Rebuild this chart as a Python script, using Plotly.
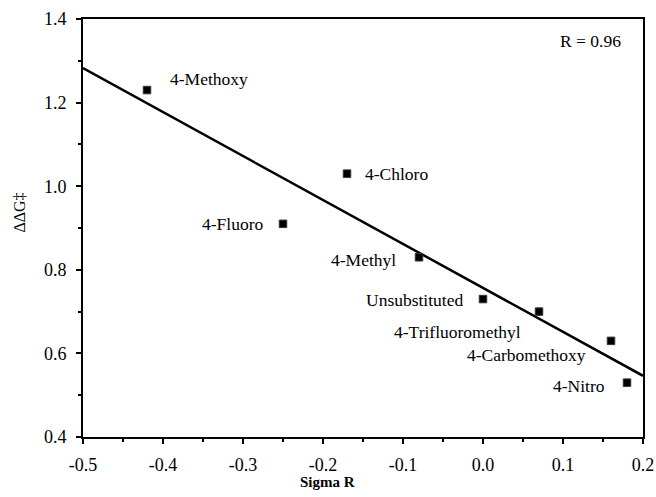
import numpy as np
import plotly.graph_objects as go

substituents = ["4-Methoxy", "4-Chloro", "4-Fluoro", "4-Methyl", "Unsubstituted",
                "4-Trifluoromethyl", "4-Carbomethoxy", "4-Nitro"]
sigma_r = [-0.42, -0.17, -0.25, -0.08, 0.00, 0.07, 0.16, 0.18]
ddg = [1.23, 1.03, 0.91, 0.83, 0.73, 0.70, 0.63, 0.53]
r_text = "R = 0.96"
x_ticks = [-0.5, -0.4, -0.3, -0.2, -0.1, 0.0, 0.1, 0.2]
x_ticktext = ["-0.5", "-0.4", "-0.3", "-0.2", "-0.1", "0.0", "0.1", "0.2"]
y_ticks = [0.4, 0.6, 0.8, 1.0, 1.2, 1.4]
y_ticktext = ["0.4", "0.6", "0.8", "1.0", "1.2", "1.4"]

# label placement: (anchor, xshift px, yshift px)
label_pos = {
    "4-Methoxy": ("left", 21, 11),
    "4-Chloro": ("left", 16, 0),
    "4-Fluoro": ("right", -17, 0),
    "4-Methyl": ("right", -21, -3),
    "Unsubstituted": ("right", -18, -1),
    "4-Trifluoromethyl": ("right", -16, -20),
    "4-Carbomethoxy": ("right", -23, -14),
    "4-Nitro": ("right", -20, -3),
}

slope, intercept = np.polyfit(sigma_r, ddg, 1)
xl = np.array([x_ticks[0], x_ticks[-1]])
yl = slope * xl + intercept

FONT = "Liberation Serif, Times New Roman, serif"
LBL = dict(family=FONT, size=17.5, color="black")

fig = go.Figure()
fig.add_trace(go.Scatter(x=xl, y=yl, mode="lines",
                         line=dict(color="black", width=2.5), showlegend=False))
fig.add_trace(go.Scatter(x=sigma_r, y=ddg, mode="markers",
                         marker=dict(symbol="square", size=7.5, color="black",
                                     line=dict(color="#333", width=1)),
                         showlegend=False))

annotations = []
for name, x, y in zip(substituents, sigma_r, ddg):
    anchor, xs, ys = label_pos[name]
    annotations.append(dict(x=x, y=y, xref="x", yref="y", text=name, showarrow=False,
                            xanchor=anchor, yanchor="middle", xshift=xs, yshift=ys,
                            font=LBL))
annotations.append(dict(x=1, y=1, xref="paper", yref="paper", text=r_text,
                        showarrow=False, xanchor="right", yanchor="middle",
                        xshift=-20, yshift=-22, font=LBL))
# axis titles
annotations.append(dict(x=0.436, y=0, xref="paper", yref="paper", text="<b>Sigma R</b>",
                        showarrow=False, xanchor="center", yanchor="middle",
                        yshift=-45, font=dict(family=FONT, size=15, color="black")))
annotations.append(dict(x=0, y=0.537, xref="paper", yref="paper", text="ΔΔG‡",
                        showarrow=False, xanchor="center", yanchor="middle", textangle=-90,
                        xshift=-63, font=dict(family=FONT, size=16, color="black")))

axis_common = dict(showgrid=False, zeroline=False, showline=True, linecolor="black",
                   linewidth=2, mirror=True, ticks="outside", ticklen=5, tickwidth=1.5,
                   tickcolor="black", automargin=False,
                   tickfont=dict(family=FONT, size=18, color="black"))

fig.update_xaxes(range=[-0.5, 0.2], tickvals=x_ticks, ticktext=x_ticktext,
                 ticklabelstandoff=5,
                 minor=dict(dtick=0.05, ticks="outside", ticklen=3, tickcolor="black"),
                 **axis_common)
fig.update_yaxes(range=[0.4, 1.4], tickvals=y_ticks, ticktext=y_ticktext,
                 ticklabelstandoff=6,
                 minor=dict(dtick=0.1, ticks="outside", ticklen=3, tickcolor="black"),
                 **axis_common)

fig.update_layout(width=656, height=497, margin=dict(l=83, r=13, t=19, b=60),
                  plot_bgcolor="white", paper_bgcolor="white",
                  annotations=annotations, font=dict(family=FONT))

fig.write_html("out.html")
